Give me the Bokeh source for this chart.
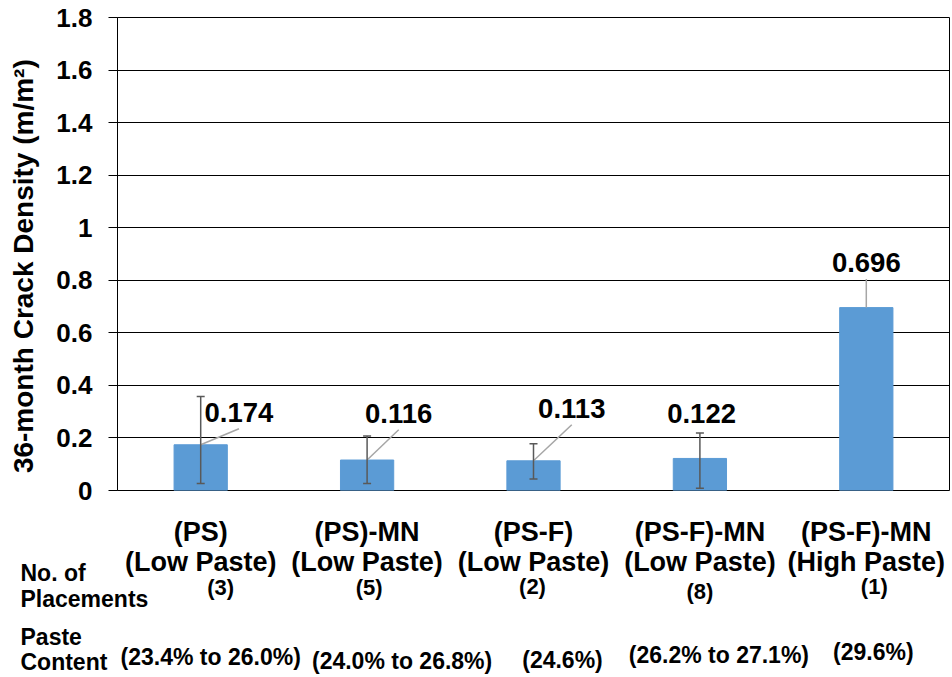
import math
from bokeh.plotting import figure
from bokeh.layouts import column, row
from bokeh.models import (FactorRange, Range1d, ColumnDataSource, Whisker, TeeHead,
                          FixedTicker, CustomJSTickFormatter)
from bokeh.core.properties import value
from bokeh.embed import file_html
from bokeh.resources import INLINE

# ---------------- data ----------------
categories = ["(PS)\n(Low Paste)", "(PS)-MN\n(Low Paste)", "(PS-F)\n(Low Paste)",
              "(PS-F)-MN\n(Low Paste)", "(PS-F)-MN\n(High Paste)"]
placements = ["(3)", "(5)", "(2)", "(8)", "(1)"]
paste_content = ["(23.4% to 26.0%)", "(24.0% to 26.8%)", "(24.6%)",
                 "(26.2% to 27.1%)", "(29.6%)"]
crack_density = [0.174, 0.116, 0.113, 0.122, 0.696]
err_lower = [0.027, 0.027, 0.044, 0.009, None]
err_upper = [0.358, 0.207, 0.178, 0.219, None]
y_ticks = [0, 0.2, 0.4, 0.6, 0.8, 1.0, 1.2, 1.4, 1.6, 1.8]
y_title = "36-month Crack Density (m/m\u00b2)"
row_headers = ["No. of", "Placements", "Paste", "Content"]

# ---------------- layout (positions, not data) ----------------
W, H = 950, 677
FRAME_L, FRAME_R, FRAME_T, FRAME_B = 117, 949, 17, 490
TOP_H = 505                      # height of the chart part
TITLE_W = 50                     # width of the y-title strip
N = len(categories)
PX_PER_CAT = (FRAME_R - FRAME_L) / N

label_dx = [0.23, 0.19, 0.23, 0.01, 0.0]          # value-label offsets (category units)
label_y = [0.297, 0.293, 0.312, 0.293, 0.867]      # value-label heights
has_leader = [True, True, True, False, True]
leader_gap = 0.062

name_rows_y = [531.5, 561.5]                       # page y of the two name lines
count_dx_px = [20, 2, -1, 0, 8]
count_y = [587, 587, 586, 591, 586]
paste_dx_px = [10, 35, 29, 19, 7]
paste_y = [656, 660, 659, 654, 651]
header_x = 20
header_y = [572.5, 598, 636, 661.5]

FONT = "Liberation Sans"
BAR = "#5B9BD5"
ECOL = "#595959"

# ---------------- y-title strip ----------------
p0 = figure(width=TITLE_W, height=TOP_H, output_backend="svg", toolbar_location=None,
            x_range=Range1d(0, TITLE_W), y_range=Range1d(TOP_H, 0),
            x_axis_type=None, y_axis_type=None,
            min_border_left=0, min_border_right=0, min_border_top=0, min_border_bottom=0)
p0.outline_line_color = None
p0.grid.visible = False
p0.text(x=[23], y=[265.5], text=[y_title], angle=math.pi / 2,
        text_font=value(FONT), text_font_style="bold", text_font_size="28px",
        text_align="center", text_baseline="middle", text_color="black")

# ---------------- chart ----------------
p1 = figure(width=W - TITLE_W, height=TOP_H, output_backend="svg", toolbar_location=None,
            x_range=FactorRange(factors=categories), y_range=Range1d(0, 1.8),
            min_border_left=FRAME_L - TITLE_W, min_border_right=W - FRAME_R,
            min_border_top=FRAME_T, min_border_bottom=TOP_H - FRAME_B)
p1.background_fill_color = "white"
p1.border_fill_color = "white"
p1.outline_line_color = "black"
p1.outline_line_width = 1

src = ColumnDataSource(dict(cat=categories, val=crack_density))
p1.vbar(x="cat", top="val", width=0.32, source=src, fill_color=BAR, line_color=BAR)

lx0, ly0, lx1, ly1 = [], [], [], []
for i, v in enumerate(crack_density):
    if has_leader[i]:
        lx0.append(i + 0.5)
        ly0.append(v)
        lx1.append(i + 0.5 + label_dx[i])
        ly1.append(label_y[i] - leader_gap)
p1.segment(x0=lx0, y0=ly0, x1=lx1, y1=ly1, line_color="#A6A6A6", line_width=1.5)

wc, wl, wu = [], [], []
for c, lo, up in zip(categories, err_lower, err_upper):
    if lo is not None:
        wc.append(c); wl.append(lo); wu.append(up)
wsrc = ColumnDataSource(dict(cat=wc, lower=wl, upper=wu))
p1.add_layout(Whisker(base="cat", lower="lower", upper="upper", source=wsrc,
                      level="annotation", line_color=ECOL, line_width=1.5,
                      upper_head=TeeHead(size=8, line_color=ECOL, line_width=1.5),
                      lower_head=TeeHead(size=8, line_color=ECOL, line_width=1.5)))

tsrc = ColumnDataSource(dict(x=[i + 0.5 + d for i, d in enumerate(label_dx)],
                             y=label_y,
                             t=["%.3f" % v for v in crack_density]))
p1.text(x="x", y="y", text="t", source=tsrc, text_font=value(FONT),
        text_font_style="bold", text_font_size="27.5px", text_align="center",
        text_baseline="middle", text_color="black")

p1.xgrid.visible = False
p1.ygrid.grid_line_color = "black"
p1.ygrid.grid_line_width = 1
p1.xaxis.visible = False

ya = p1.yaxis[0]
ya.ticker = FixedTicker(ticks=y_ticks)
ya.formatter = CustomJSTickFormatter(code="return (Math.round(tick*10)/10).toString();")
ya.major_label_text_font = FONT
ya.major_label_text_font_style = "bold"
ya.major_label_text_font_size = "26px"
ya.major_label_text_color = "black"
ya.major_tick_out = 9
ya.major_tick_in = 0
ya.minor_tick_line_color = None
ya.major_label_standoff = 16
ya.axis_line_color = "black"
ya.major_tick_line_color = "black"

# ---------------- category table below the chart ----------------
BOT_H = H - TOP_H
x_start = -FRAME_L / PX_PER_CAT
x_end = N + (W - FRAME_R) / PX_PER_CAT
p2 = figure(width=W, height=BOT_H, output_backend="svg", toolbar_location=None,
            x_range=Range1d(x_start, x_end), y_range=Range1d(H, TOP_H),
            x_axis_type=None, y_axis_type=None,
            min_border_left=0, min_border_right=0, min_border_top=0, min_border_bottom=0)
p2.outline_line_color = None
p2.grid.visible = False

centers = [i + 0.5 for i in range(N)]
name_lines = [c.split("\n") for c in categories]
for k, yy in enumerate(name_rows_y):
    p2.text(x=centers, y=[yy] * N, text=[nl[k] for nl in name_lines],
            text_font=value(FONT), text_font_style="bold", text_font_size="27px",
            text_align="center", text_baseline="middle", text_color="black")

p2.text(x=[c + d / PX_PER_CAT for c, d in zip(centers, count_dx_px)], y=count_y,
        text=placements, text_font=value(FONT), text_font_style="bold",
        text_font_size="22px", text_align="center", text_baseline="middle",
        text_color="black")

p2.text(x=[c + d / PX_PER_CAT for c, d in zip(centers, paste_dx_px)], y=paste_y,
        text=paste_content, text_font=value(FONT), text_font_style="bold",
        text_font_size="23px", text_align="center", text_baseline="middle",
        text_color="black")

hx = x_start + header_x / PX_PER_CAT
p2.text(x=[hx] * len(row_headers), y=header_y, text=row_headers,
        text_font=value(FONT), text_font_style="bold", text_font_size="23px",
        text_align="left", text_baseline="middle", text_color="black")

layout = column(row(p0, p1, spacing=0), p2, spacing=0)
open("out.html", "w").write(file_html(layout, INLINE))
